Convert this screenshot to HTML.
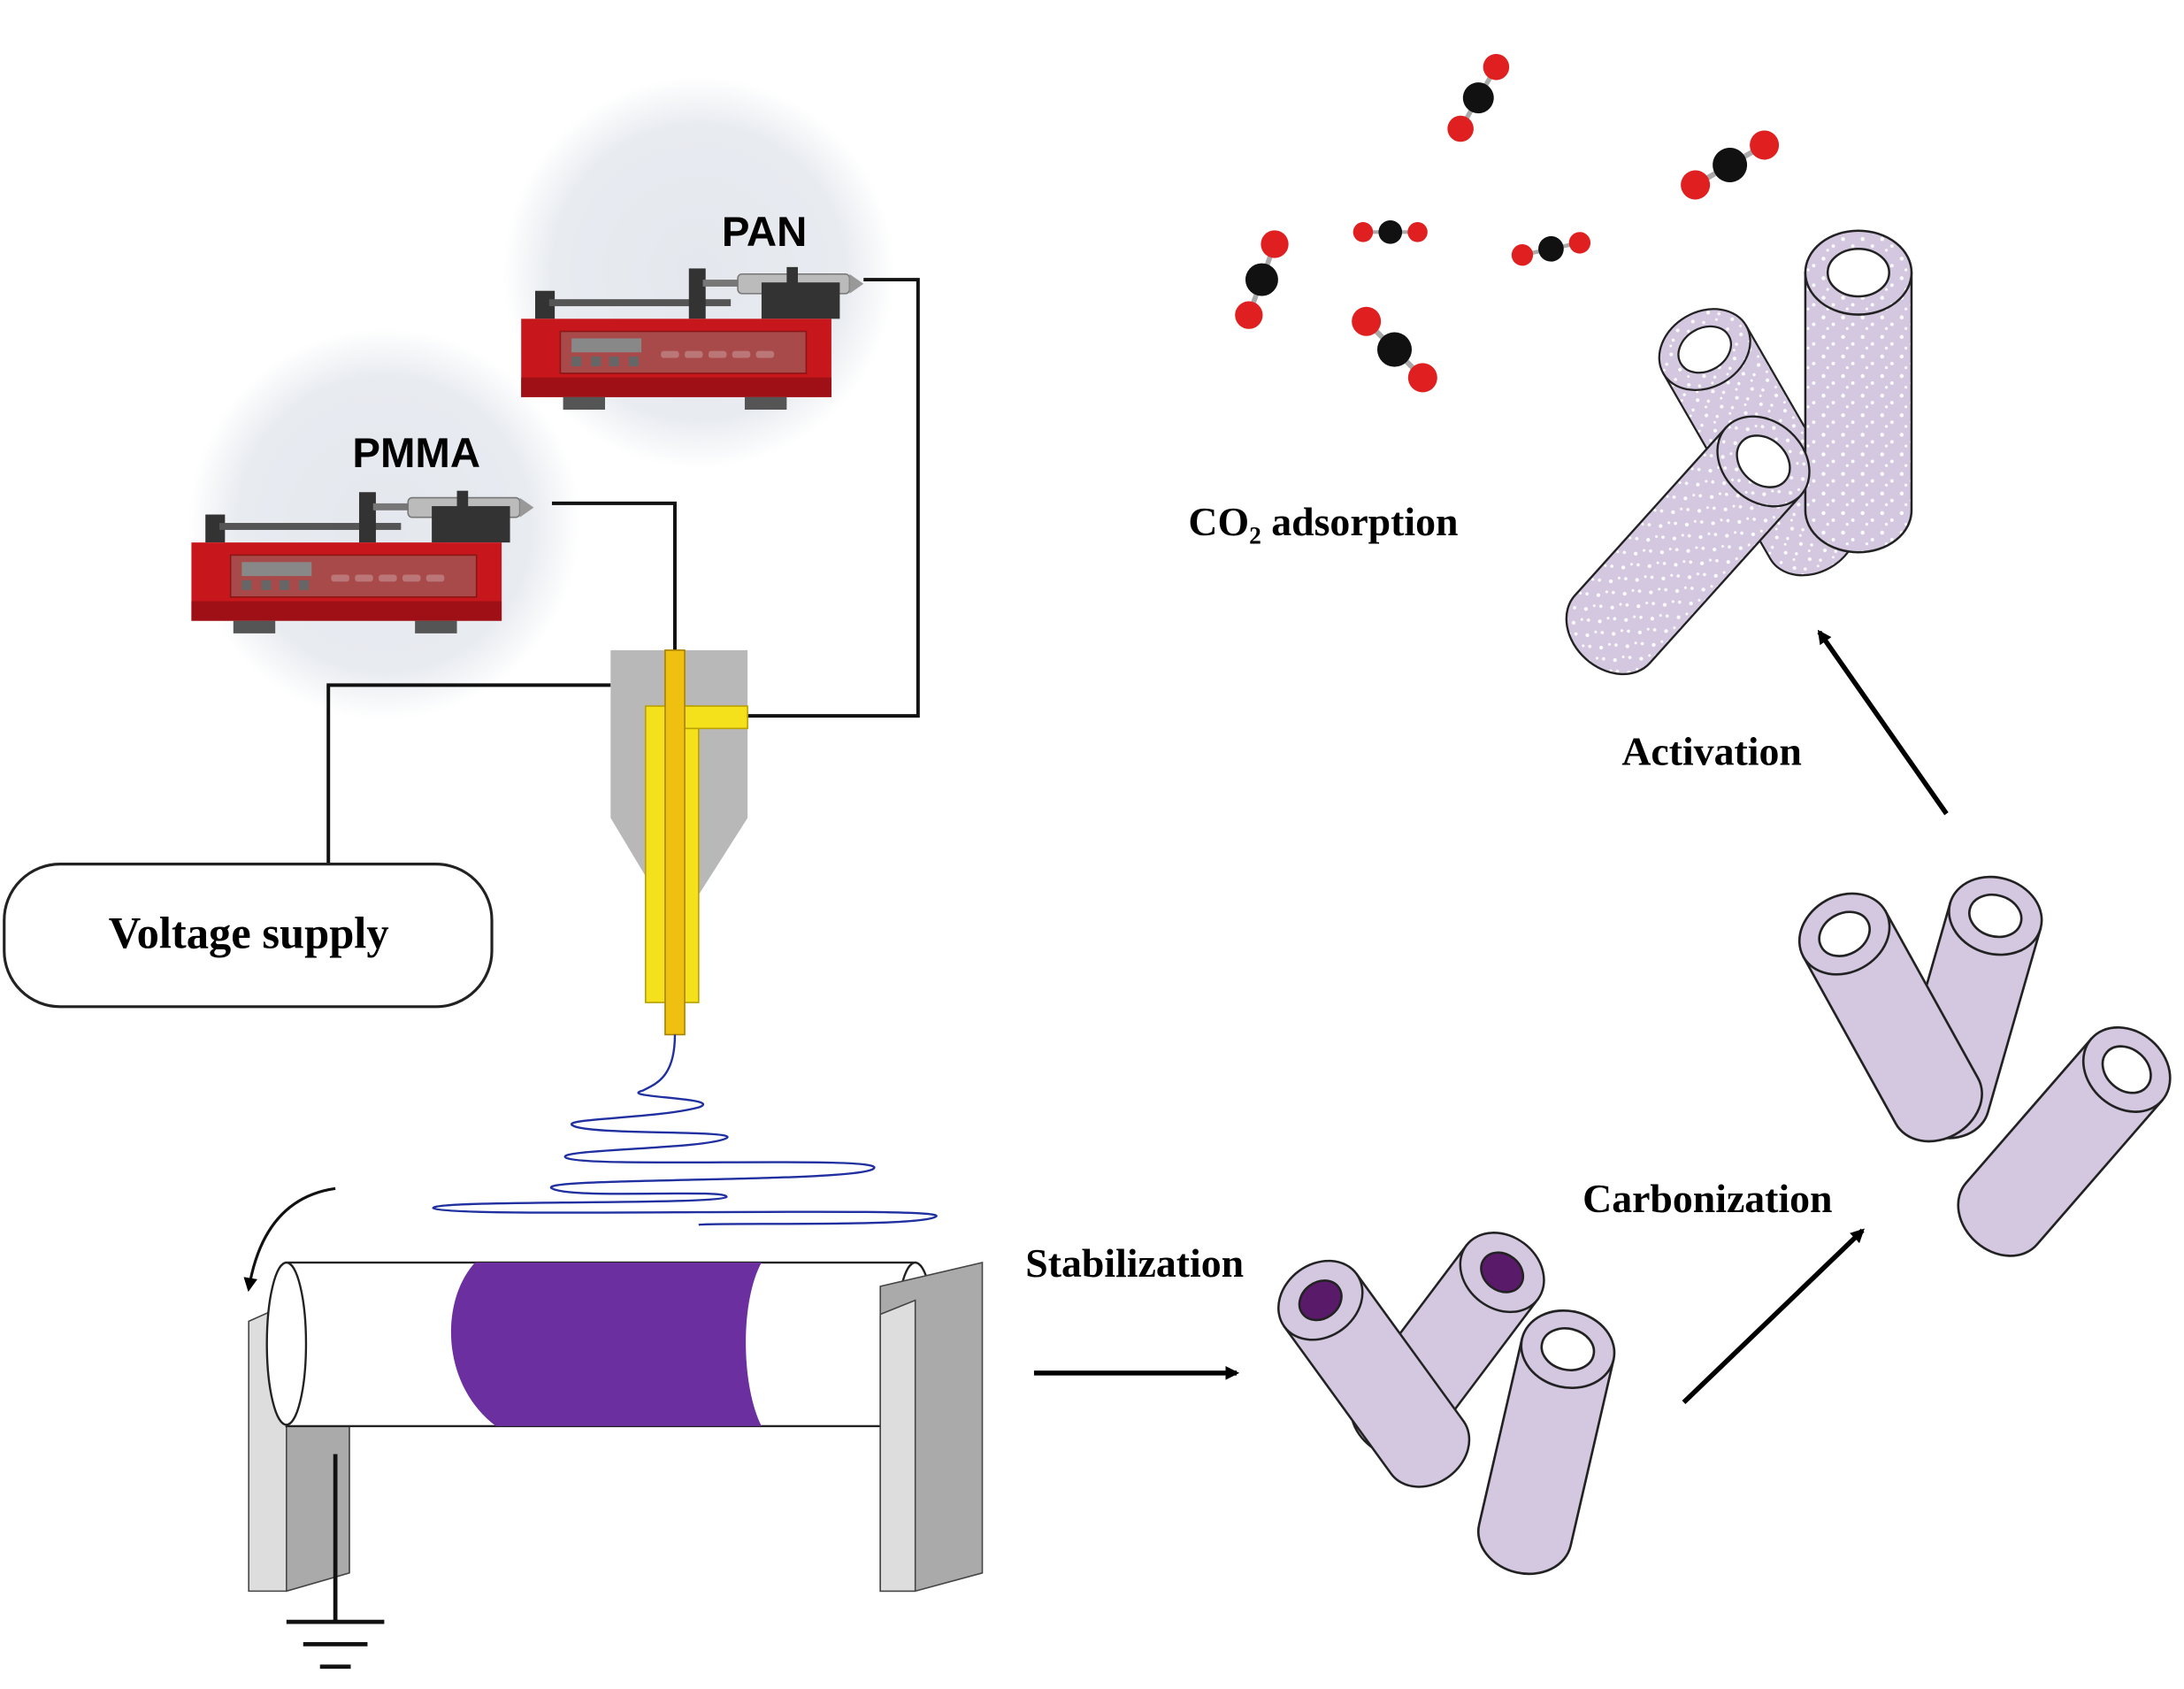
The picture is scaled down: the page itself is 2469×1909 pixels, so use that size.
<!DOCTYPE html>
<html><head><meta charset="utf-8"><style>html,body{margin:0;padding:0;background:#fff}svg{display:block}</style></head>
<body>
<svg width="2469" height="1909" viewBox="0 0 1563 1208" preserveAspectRatio="none" xmlns="http://www.w3.org/2000/svg">
<defs>
<radialGradient id="glow" cx="0.5" cy="0.5" r="0.5">
<stop offset="0" stop-color="#e4e8ee"/><stop offset="0.75" stop-color="#e8ebf0"/><stop offset="1" stop-color="#ffffff"/>
</radialGradient>
<pattern id="dots" width="14" height="14" patternUnits="userSpaceOnUse">
<rect width="14" height="14" fill="#d4c8e0"/>
<circle cx="3" cy="4" r="1.4" fill="#fff"/><circle cx="10" cy="9" r="1.2" fill="#fff"/><circle cx="6" cy="12" r="1" fill="#fff"/>
</pattern>
<g id="pump">
<rect x="10" y="0" width="14" height="20" fill="#333"/>
<rect x="20" y="6" width="130" height="5" fill="#555"/>
<rect x="120" y="-16" width="12" height="36" fill="#333"/>
<rect x="130" y="-8" width="30" height="5" fill="#777"/>
<rect x="155" y="-12" width="80" height="14" rx="3" fill="#bbb" stroke="#777"/>
<rect x="172" y="-6" width="56" height="26" fill="#333"/>
<rect x="190" y="-17" width="8" height="16" fill="#333"/>
<polygon points="235,-12 245,-5 235,2" fill="#999"/>
<rect x="0" y="20" width="222" height="56" fill="#c8171c"/>
<rect x="0" y="62" width="222" height="14" fill="#9e1015"/>
<rect x="28" y="29" width="176" height="30" fill="#a84a4a" stroke="#8a1515"/>
<rect x="36" y="34" width="50" height="10" fill="#888"/>
<g fill="#666"><rect x="36" y="47" width="7" height="7"/><rect x="50" y="47" width="7" height="7"/><rect x="63" y="47" width="7" height="7"/><rect x="77" y="47" width="7" height="7"/></g>
<g fill="#b77"><rect x="100" y="43" width="13" height="5" rx="2"/><rect x="117" y="43" width="13" height="5" rx="2"/><rect x="134" y="43" width="13" height="5" rx="2"/><rect x="151" y="43" width="13" height="5" rx="2"/><rect x="168" y="43" width="13" height="5" rx="2"/></g>
<rect x="30" y="76" width="30" height="9" fill="#555"/><rect x="160" y="76" width="30" height="9" fill="#555"/>
</g>
<g id="tube" stroke="#222" stroke-width="1.6">
<path d="M-32,0 L-32,130 A32,26 0 0 0 32,130 L32,0 Z" fill="#d4c8e0"/>
<ellipse cx="0" cy="0" rx="32" ry="26" fill="#d4c8e0"/>
<ellipse cx="0" cy="0" rx="18" ry="14" fill="#fff"/>
</g>
<g id="tubeS" stroke="#222" stroke-width="1.6">
<path d="M-32,0 L-32,130 A32,26 0 0 0 32,130 L32,0 Z" fill="#d4c8e0"/>
<ellipse cx="0" cy="0" rx="32" ry="26" fill="#d4c8e0"/>
<ellipse cx="0" cy="0" rx="16" ry="13" fill="#5a1a6a"/>
</g>
<g id="tubeP" stroke="#222" stroke-width="1.6">
<path d="M-38,0 L-38,170 A38,30 0 0 0 38,170 L38,0 Z" fill="url(#dots)"/>
<ellipse cx="0" cy="0" rx="38" ry="30" fill="url(#dots)"/>
<ellipse cx="0" cy="0" rx="22" ry="17" fill="#fff"/>
</g>
<marker id="ah" markerWidth="10" markerHeight="10" refX="8" refY="5" orient="auto" markerUnits="userSpaceOnUse"><path d="M0,0 L10,5 L0,10 Z" fill="#000"/></marker>
<g id="mol">
<line x1="-30" y1="0" x2="30" y2="0" stroke="#aaa" stroke-width="4"/>
<circle cx="-30" cy="0" r="11" fill="#e02020"/><circle cx="30" cy="0" r="11" fill="#e02020"/>
<circle cx="0" cy="0" r="13" fill="#111"/>
</g>
</defs>

<circle cx="500" cy="195" r="140" fill="url(#glow)"/>
<circle cx="275" cy="375" r="140" fill="url(#glow)"/>
<rect x="0" y="500" width="1563" height="10" fill="none"/>
<use href="#pump" x="373" y="208"/>
<use href="#pump" x="137" y="368"/>
<text x="547" y="176" font-family="Liberation Sans, sans-serif" font-weight="bold" font-size="30" text-anchor="middle">PAN</text>
<text x="298" y="334" font-family="Liberation Sans, sans-serif" font-weight="bold" font-size="30" text-anchor="middle">PMMA</text>

<g fill="none" stroke="#111" stroke-width="2.5">
<polyline points="395,360 483,360 483,467"/>
<polyline points="618,200 657,200 657,512 535,512"/>
<polyline points="437,490 235,490 235,618"/>
</g>
<polygon points="437,465 535,465 535,585 500,640 470,640 437,585" fill="#b8b8b8"/>
<rect x="462" y="505" width="38" height="212" fill="#f5e01c" stroke="#b8a000"/>
<rect x="490" y="505" width="45" height="16" fill="#f5e01c" stroke="#b8a000"/>
<rect x="476" y="465" width="14" height="275" fill="#f0c010" stroke="#a88000"/>
<rect x="3" y="618" width="349" height="102" rx="40" fill="#fff" stroke="#222" stroke-width="2"/>
<text x="178" y="678" font-family="Liberation Serif, serif" font-weight="bold" font-size="32" text-anchor="middle">Voltage supply</text>

<path d="M483,740 C483,770 470,775 460,780 C440,785 520,785 500,792 C470,800 400,800 410,805 C420,812 530,808 520,814 C505,822 395,822 405,828 C420,836 640,826 625,836 C610,846 380,842 395,850 C410,858 520,850 520,856 C515,862 310,858 310,864 C320,872 680,862 670,870 C660,878 510,874 500,876" fill="none" stroke="#2030a0" stroke-width="1.5"/>

<path d="M240,850 C205,855 185,880 178,922" fill="none" stroke="#111" stroke-width="2" marker-end="url(#ah)"/>
<polygon points="178,945 205,933 250,1010 250,1125 205,1138 178,1138" fill="#ddd" stroke="#444"/>
<polygon points="205,933 250,910 250,1125 205,1138" fill="#aaa" stroke="#444"/>
<rect x="205" y="903" width="450" height="117" fill="#fff" stroke="#222" stroke-width="1.5"/>
<ellipse cx="205" cy="961" rx="14" ry="58" fill="#fff" stroke="#222" stroke-width="1.5"/>
<path d="M320,903 L545,903 C530,930 530,990 545,1020 L355,1020 C315,990 315,930 340,903 Z" fill="#6b2fa0"/>
<ellipse cx="655" cy="961" rx="14" ry="58" fill="#fff" stroke="#222" stroke-width="1.5"/>
<polygon points="630,920 703,903 703,1125 655,1138 630,1138" fill="#aaa" stroke="#444"/>
<polygon points="630,940 655,930 655,1138 630,1138" fill="#ddd" stroke="#444"/>
<g stroke="#111" stroke-width="3">
<line x1="240" y1="1040" x2="240" y2="1160"/>
<line x1="205" y1="1160" x2="275" y2="1160"/>
<line x1="217" y1="1176" x2="263" y2="1176"/>
<line x1="229" y1="1192" x2="251" y2="1192"/>
</g>

<line x1="740" y1="982" x2="885" y2="982" stroke="#000" stroke-width="3.5" marker-end="url(#ah)"/>
<text x="812" y="913" font-family="Liberation Serif, serif" font-weight="bold" font-size="29" text-anchor="middle">Stabilization</text>
<line x1="1205" y1="1003" x2="1333" y2="880" stroke="#000" stroke-width="3.5" marker-end="url(#ah)"/>
<text x="1222" y="867" font-family="Liberation Serif, serif" font-weight="bold" font-size="29" text-anchor="middle">Carbonization</text>
<line x1="1393" y1="582" x2="1302" y2="452" stroke="#000" stroke-width="3.5" marker-end="url(#ah)"/>
<text x="1225" y="547" font-family="Liberation Serif, serif" font-weight="bold" font-size="29" text-anchor="middle">Activation</text>
<text x="947" y="383" font-family="Liberation Serif, serif" font-weight="bold" font-size="29" text-anchor="middle">CO₂ adsorption</text>

<use href="#tubeS" transform="translate(1075,910) rotate(37)"/>
<use href="#tubeS" transform="translate(945,930) rotate(-36)"/>
<use href="#tube" transform="translate(1122,965) rotate(13) scale(1.05)"/>

<use href="#tube" transform="translate(1428,655) rotate(16) scale(1.05)"/>
<use href="#tube" transform="translate(1320,668) rotate(-29) scale(1.05)"/>
<use href="#tube" transform="translate(1522,765) rotate(41) scale(1.05)"/>

<use href="#tubeP" transform="translate(1220,250) rotate(-30) scale(0.9)"/>
<use href="#tubeP" transform="translate(1330,195) rotate(0)"/>
<use href="#tubeP" transform="translate(1262,330) rotate(42) scale(0.95)"/>

<use href="#mol" transform="translate(1058,70) rotate(-60) scale(0.85)"/>
<use href="#mol" transform="translate(1238,118) rotate(-30) scale(0.95)"/>
<use href="#mol" transform="translate(903,200) rotate(110) scale(0.9)"/>
<use href="#mol" transform="translate(995,166) scale(0.65)"/>
<use href="#mol" transform="translate(1110,178) rotate(-12) scale(0.7)"/>
<use href="#mol" transform="translate(998,250) rotate(45) scale(0.95)"/>
</svg>
</body></html>
